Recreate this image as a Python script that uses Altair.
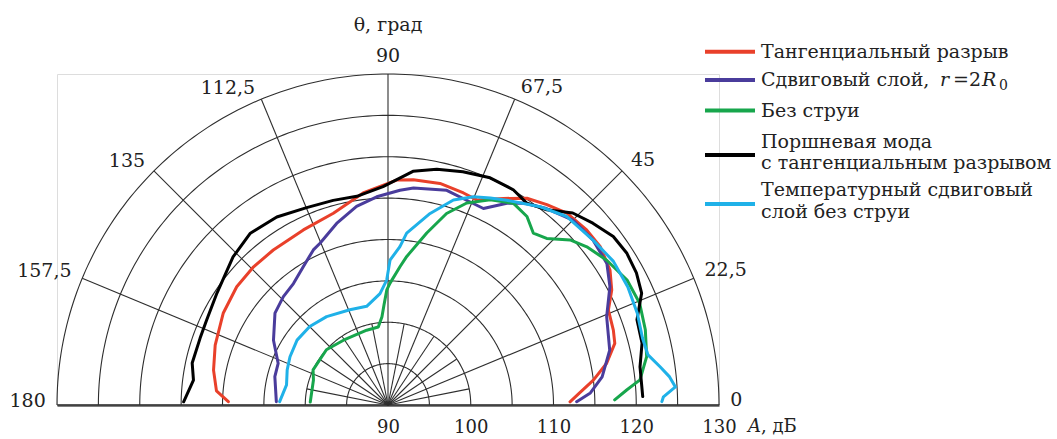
import altair as alt
import pandas as pd

# ---------------- data (angle θ in degrees, level A in dB) ----------------
SERIES = [
    "Тангенциальный разрыв",
    "Сдвиговый слой, r = 2R0",
    "Без струи",
    "Поршневая мода с тангенциальным разрывом",
    "Температурный сдвиговый слой без струи",
]
COLORS = ["#e9402a", "#4a3c9c", "#17a64c", "#000000", "#1fb1e8"]

red_theta = [178.8, 175.3, 168.7, 160.9, 150.8, 142.0, 134.2, 126.5, 115.8, 105.9, 96.7, 87.8,
             83.6, 76.8, 70.4, 66.6, 60.8, 56.1, 51.6, 47.0, 41.4, 36.7, 31.3, 27.2, 23.3, 18.4,
             15.2, 10.8, 6.9, 3.6, 1.0]
red_A = [109.3, 110.8, 111.5, 112.1, 112.8, 113.2, 113.3, 113.3, 113.5, 114.1, 115.8, 117.2,
         117.4, 117.5, 117.2, 117.0, 118.6, 120.1, 120.9, 121.7, 122.0, 122.0, 121.4, 120.4, 119.0,
         118.7, 118.4, 116.9, 115.0, 113.2, 112.0]

blue_theta = [178.3, 165.9, 159.2, 150.5, 140.9, 134.0, 127.9, 121.5, 115.7, 112.8, 105.8, 99.0,
              93.1, 86.8, 83.3, 74.7, 69.0, 64.1, 59.5, 56.1, 51.1, 45.0, 38.8, 32.9, 28.1, 22.0,
              13.9, 7.5, 3.4, 1.0]
blue_A = [103.5, 104.1, 104.2, 105.9, 107.6, 108.2, 108.6, 109.6, 110.8, 111.2, 112.8, 114.3,
          115.2, 116.0, 116.4, 116.9, 116.5, 116.4, 118.3, 119.4, 120.5, 121.6, 121.8, 121.5,
          120.4, 118.5, 117.6, 116.1, 114.5, 112.8]

green_theta = [177.8, 161.5, 154.9, 138.1, 124.5, 105.9, 97.1, 93.9, 92.3, 90.6, 89.1, 85.0, 82.8,
               77.3, 73.0, 68.7, 63.5, 58.1, 53.6, 49.8, 46.4, 42.2, 38.5, 33.5, 27.6, 22.0, 16.3,
               10.6, 5.7, 3.6, 1.3]
green_A = [99.4, 99.5, 100.0, 100.0, 99.5, 99.4, 99.5, 100.7, 102.1, 103.9, 104.7, 106.8, 108.1,
           111.3, 114.2, 116.2, 117.7, 118.7, 118.3, 117.2, 117.8, 119.7, 120.7, 121.7, 122.6,
           122.8, 122.4, 121.8, 120.6, 118.9, 117.4]

black_theta = [179.1, 172.7, 167.9, 160.4, 154.9, 146.8, 136.3, 128.7, 120.6, 112.4, 105.0, 98.5,
               91.3, 83.9, 78.3, 72.2, 65.8, 59.8, 55.5, 50.9, 46.1, 41.6, 36.8, 32.5, 28.0, 23.8,
               18.9, 13.7, 8.6, 1.9]
black_A = [114.7, 113.7, 114.2, 114.1, 114.2, 114.7, 115.9, 116.6, 116.4, 115.8, 115.6, 115.5,
           116.4, 118.4, 119.1, 119.6, 120.1, 120.1, 119.6, 120.4, 122.2, 123.1, 124.0, 124.2,
           124.0, 123.5, 121.8, 121.6, 120.8, 120.8]

cyan_theta = [178.2, 168.8, 160.8, 153.8, 144.5, 134.9, 124.8, 111.8, 102.2, 94.1, 90.6, 89.2,
              85.7, 83.8, 77.6, 72.3, 67.7, 63.7, 59.9, 52.5, 46.5, 38.8, 32.5, 26.2, 20.2, 14.7,
              10.9, 8.0, 5.7, 3.6, 1.7, 0.7]
cyan_A = [103.1, 102.5, 102.9, 103.2, 103.5, 103.4, 103.0, 102.4, 102.2, 103.5, 105.1, 107.5,
          109.2, 110.9, 113.7, 116.0, 117.2, 117.9, 118.6, 120.2, 121.4, 121.8, 122.3, 122.3,
          122.1, 121.8, 122.0, 123.2, 124.2, 124.8, 123.3, 123.1]

RING_LEVELS = [95, 100, 105, 110, 115, 120, 125, 130]
MAJOR_SPOKES = [0, 22.5, 45, 67.5, 90, 112.5, 135, 157.5, 180]
MINOR_SPOKES = [11.25, 33.75, 56.25, 78.75, 101.25, 123.75, 146.25, 168.75]
ANGLE_LABELS = ["0", "22,5", "45", "67,5", "90", "112,5", "135", "157,5", "180"]
A_TICKS = [90, 100, 110, 120, 130]
A_MIN, A_MAX = 90, 130

# ---------------- tables ----------------
rows = []
for name, th, aa in zip(SERIES,
                        [red_theta, blue_theta, green_theta, black_theta, cyan_theta],
                        [red_A, blue_A, green_A, black_A, cyan_A]):
    for i, (t, a) in enumerate(zip(th, aa)):
        rows.append({"series": name, "theta": t, "A": a, "i": i})
curves_df = pd.DataFrame(rows)

ring_df = pd.DataFrame([{"ring": r, "phi": p} for r in RING_LEVELS for p in range(0, 181)])
major_df = pd.DataFrame({"phi": MAJOR_SPOKES, "r": [A_MAX] * len(MAJOR_SPOKES)})
minor_df = pd.DataFrame({"phi": MINOR_SPOKES, "r": [100] * len(MINOR_SPOKES)})
lab_df = pd.DataFrame({"phi": MAJOR_SPOKES, "label": ANGLE_LABELS})

SPAN = A_MAX - A_MIN
xs = alt.Scale(domain=[-SPAN, SPAN], nice=False, zero=False)
ys = alt.Scale(domain=[0, SPAN], nice=False, zero=False)
FONT = "DejaVu Serif"
INK = "#222222"
xaxis = alt.Axis(values=[a - A_MIN for a in A_TICKS], labelExpr=f"datum.value + {A_MIN}",
                 ticks=False, grid=False, domain=True, domainColor="#555555", domainWidth=2.5,
                 labelFont=FONT, labelFontSize=18, labelColor=INK, labelPadding=13,
                 title=None, labelFlush=False, labelOverlap=False)
X = lambda f: alt.X(f, scale=xs, axis=xaxis)
Y = lambda f: alt.Y(f, scale=ys, axis=None)

rings = alt.Chart(ring_df).transform_calculate(
    x=f"(datum.ring-{A_MIN})*cos(datum.phi*PI/180)",
    y=f"(datum.ring-{A_MIN})*sin(datum.phi*PI/180)",
).mark_line(color="#2e2e2e", strokeWidth=1.1).encode(
    x=X("x:Q"), y=Y("y:Q"), detail="ring:N", order="phi:Q")

def spokes(df):
    return alt.Chart(df).transform_calculate(
        x0="0", y0="0",
        x1=f"(datum.r-{A_MIN})*cos(datum.phi*PI/180)",
        y1=f"(datum.r-{A_MIN})*sin(datum.phi*PI/180)",
    ).mark_rule(color="#2e2e2e", strokeWidth=1.1).encode(
        x=X("x0:Q"), y=Y("y0:Q"), x2="x1:Q", y2="y1:Q")

curves = alt.Chart(curves_df).transform_calculate(
    x=f"(datum.A-{A_MIN})*cos(datum.theta*PI/180)",
    y=f"(datum.A-{A_MIN})*sin(datum.theta*PI/180)",
).mark_line(strokeWidth=3, strokeJoin="round", strokeCap="round").encode(
    x=X("x:Q"), y=Y("y:Q"),
    color=alt.Color("series:N", scale=alt.Scale(domain=SERIES, range=COLORS), legend=None),
    detail="series:N", order="i:Q")

def angle_labels(flt, align, dx, dy):
    return alt.Chart(lab_df).transform_filter(flt).transform_calculate(
        x=f"{SPAN + 1}*cos(datum.phi*PI/180)",
        y=f"{SPAN + 1}*sin(datum.phi*PI/180)",
    ).mark_text(font=FONT, fontSize=19, color=INK, align=align, baseline="middle",
                dx=dx, dy=dy).encode(x=X("x:Q"), y=Y("y:Q"), text="label:N")

one = alt.Data(values=[{}])

def txt(s, x, y, align="left", size=19, style="normal"):
    return alt.Chart(one).mark_text(font=FONT, fontSize=size, color=INK, align=align,
                                    baseline="middle", fontStyle=style).encode(
        x=alt.value(x), y=alt.value(y), text=alt.value(s))

def seg(color, y):
    return alt.Chart(one).mark_rule(color=color, strokeWidth=4).encode(
        x=alt.value(648), x2=alt.value(698), y=alt.value(y))

OX, OY = 57, 74
legend = [
    seg(COLORS[0], 51.7 - OY), txt("Тангенциальный разрыв", 761 - OX, 51.7 - OY),
    seg(COLORS[1], 80 - OY), txt("Сдвиговый слой,", 761 - OX, 80 - OY),
    txt("r", 940 - OX, 80 - OY, style="italic"), txt("=", 953 - OX, 80 - OY),
    txt("2", 969 - OX, 80 - OY), txt("R", 982 - OX, 80 - OY, style="italic"),
    txt("0", 999 - OX, 86 - OY, size=14),
    seg(COLORS[2], 110.5 - OY), txt("Без струи", 761 - OX, 111 - OY),
    seg(COLORS[3], 155 - OY), txt("Поршневая мода", 761 - OX, 141.7 - OY),
    txt("с тангенциальным разрывом", 761 - OX, 163.3 - OY),
    seg(COLORS[4], 204 - OY), txt("Температурный сдвиговый", 761 - OX, 190 - OY),
    txt("слой без струи", 761 - OX, 211.7 - OY),
]

extras = [
    txt("θ, град", 388 - OX, 25 - OY, align="center"),
    txt("A", 748 - OX, 427 - OY, style="italic", size=18),
    txt(", дБ", 761 - OX, 427 - OY, size=18),
]

chart = alt.layer(
    rings, spokes(major_df), spokes(minor_df), curves,
    angle_labels("datum.phi < 90", "left", 3, -5),
    angle_labels("datum.phi == 90", "center", 0, -10),
    angle_labels("datum.phi > 90", "right", -3, -4),
    *extras, *legend,
).properties(
    width=662, height=331,
    autosize=alt.AutoSizeParams(type="none"),
    padding={"left": OX, "top": OY, "right": 1057 - OX - 662, "bottom": 439 - OY - 331},
).configure_view(stroke=None).configure(background="white")

chart.save("out.html", embed_options={"renderer": "svg", "actions": False})
